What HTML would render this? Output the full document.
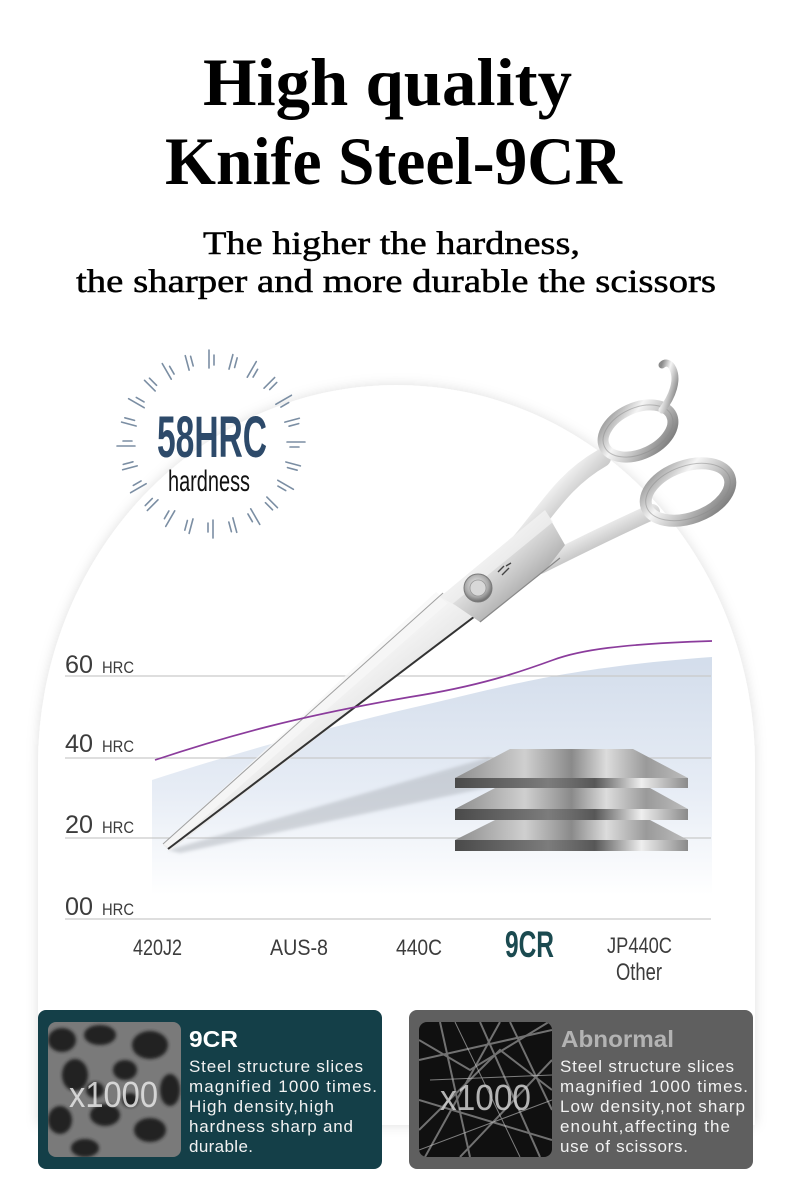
<!DOCTYPE html>
<html><head><meta charset="utf-8"><style>
html,body{margin:0;padding:0;background:#fff;}
svg{display:block;}
</style></head><body>
<svg width="790" height="1195" viewBox="0 0 790 1195" xmlns="http://www.w3.org/2000/svg">
<defs>
  <filter id="sh" x="-10%" y="-10%" width="120%" height="120%">
    <feDropShadow dx="0" dy="0" stdDeviation="6" flood-color="#000" flood-opacity="0.13"/>
  </filter>
  <filter id="blur3"><feGaussianBlur stdDeviation="1.5"/></filter>
  <filter id="blur1"><feGaussianBlur stdDeviation="1.6"/></filter>
  <linearGradient id="blue" x1="0" y1="655" x2="0" y2="895" gradientUnits="userSpaceOnUse">
    <stop offset="0" stop-color="#d3ddeb"/>
    <stop offset="0.55" stop-color="#e6ecf5"/>
    <stop offset="1" stop-color="#ffffff"/>
  </linearGradient>
  <linearGradient id="silv" x1="0" y1="0" x2="1" y2="1">
    <stop offset="0" stop-color="#8a8a8a"/>
    <stop offset="0.35" stop-color="#f5f5f5"/>
    <stop offset="0.6" stop-color="#c4c4c4"/>
    <stop offset="1" stop-color="#6e6e6e"/>
  </linearGradient>
  <linearGradient id="blade" x1="0" y1="0" x2="1" y2="1">
    <stop offset="0" stop-color="#b8b8b8"/>
    <stop offset="0.45" stop-color="#f4f4f4"/>
    <stop offset="0.7" stop-color="#d0d0d0"/>
    <stop offset="1" stop-color="#9a9a9a"/>
  </linearGradient>
  <radialGradient id="screw" cx="0.45" cy="0.4" r="0.6">
    <stop offset="0" stop-color="#f2f2f2"/>
    <stop offset="0.7" stop-color="#a8a8a8"/>
    <stop offset="1" stop-color="#6a6a6a"/>
  </radialGradient>
  <linearGradient id="ptop" x1="0" y1="0" x2="1" y2="0">
    <stop offset="0" stop-color="#8d8d8d"/>
    <stop offset="0.3" stop-color="#cfcfcf"/>
    <stop offset="0.5" stop-color="#8a8a8a"/>
    <stop offset="0.65" stop-color="#dcdcdc"/>
    <stop offset="0.82" stop-color="#9a9a9a"/>
    <stop offset="1" stop-color="#bdbdbd"/>
  </linearGradient>
  <linearGradient id="pbar" x1="0" y1="0" x2="1" y2="0">
    <stop offset="0" stop-color="#4a4a4a"/>
    <stop offset="0.4" stop-color="#7c7c7c"/>
    <stop offset="0.6" stop-color="#575757"/>
    <stop offset="0.8" stop-color="#eeeeee"/>
    <stop offset="1" stop-color="#8a8a8a"/>
  </linearGradient>
  <clipPath id="img1"><rect x="48" y="1022" width="133" height="135" rx="8"/></clipPath>
  <clipPath id="img2"><rect x="419" y="1022" width="133" height="135" rx="8"/></clipPath>
</defs>

<!-- Title -->
<g font-family="'Liberation Serif', serif" fill="#000">
  <text x="203" y="105" font-size="68" font-weight="bold" textLength="369" lengthAdjust="spacingAndGlyphs">High quality</text>
  <text x="165" y="184" font-size="68" font-weight="bold" textLength="457" lengthAdjust="spacingAndGlyphs">Knife Steel-9CR</text>
  <g stroke="#000" stroke-width="0.5">
  <text x="203" y="254" font-size="33" textLength="377" lengthAdjust="spacingAndGlyphs">The higher the hardness,</text>
  <text x="76" y="292" font-size="33" textLength="640" lengthAdjust="spacingAndGlyphs">the sharper and more durable the scissors</text>
  </g>
</g>

<!-- Arch background -->
<path d="M38,1125 L38,765 A358.5,380 0 0 1 755,765 L755,1125 Z" fill="#fff" filter="url(#sh)"/>

<!-- Burst -->
<g transform="translate(211,444)" stroke="#7b8ea3" stroke-width="1.6" stroke-linecap="round">
  <g transform="rotate(0)"><line x1="-2" y1="-76" x2="-2" y2="-94"/><line x1="3" y1="-79" x2="3" y2="-89"/></g>
  <g transform="rotate(15)"><line x1="-2" y1="-77" x2="-2" y2="-92"/><line x1="3" y1="-80" x2="3" y2="-90"/></g>
  <g transform="rotate(30)"><line x1="-2" y1="-76" x2="-2" y2="-94"/><line x1="3" y1="-79" x2="3" y2="-88"/></g>
  <g transform="rotate(45)"><line x1="-2" y1="-77" x2="-2" y2="-92"/><line x1="3" y1="-80" x2="3" y2="-90"/></g>
  <g transform="rotate(60)"><line x1="-2" y1="-76" x2="-2" y2="-94"/><line x1="3" y1="-79" x2="3" y2="-88"/></g>
  <g transform="rotate(75)"><line x1="-2" y1="-77" x2="-2" y2="-92"/><line x1="3" y1="-80" x2="3" y2="-90"/></g>
  <g transform="rotate(90)"><line x1="-2" y1="-76" x2="-2" y2="-94"/><line x1="3" y1="-79" x2="3" y2="-88"/></g>
  <g transform="rotate(105)"><line x1="-2" y1="-77" x2="-2" y2="-92"/><line x1="3" y1="-80" x2="3" y2="-90"/></g>
  <g transform="rotate(120)"><line x1="-2" y1="-76" x2="-2" y2="-94"/><line x1="3" y1="-79" x2="3" y2="-88"/></g>
  <g transform="rotate(135)"><line x1="-2" y1="-77" x2="-2" y2="-92"/><line x1="3" y1="-80" x2="3" y2="-90"/></g>
  <g transform="rotate(150)"><line x1="-2" y1="-76" x2="-2" y2="-94"/><line x1="3" y1="-79" x2="3" y2="-88"/></g>
  <g transform="rotate(165)"><line x1="-2" y1="-77" x2="-2" y2="-92"/><line x1="3" y1="-80" x2="3" y2="-90"/></g>
  <g transform="rotate(180)"><line x1="-2" y1="-76" x2="-2" y2="-94"/><line x1="3" y1="-79" x2="3" y2="-88"/></g>
  <g transform="rotate(195)"><line x1="-2" y1="-77" x2="-2" y2="-92"/><line x1="3" y1="-80" x2="3" y2="-90"/></g>
  <g transform="rotate(210)"><line x1="-2" y1="-76" x2="-2" y2="-94"/><line x1="3" y1="-79" x2="3" y2="-88"/></g>
  <g transform="rotate(225)"><line x1="-2" y1="-77" x2="-2" y2="-92"/><line x1="3" y1="-80" x2="3" y2="-90"/></g>
  <g transform="rotate(240)"><line x1="-2" y1="-76" x2="-2" y2="-94"/><line x1="3" y1="-79" x2="3" y2="-88"/></g>
  <g transform="rotate(255)"><line x1="-2" y1="-77" x2="-2" y2="-92"/><line x1="3" y1="-80" x2="3" y2="-90"/></g>
  <g transform="rotate(270)"><line x1="-2" y1="-76" x2="-2" y2="-94"/><line x1="3" y1="-79" x2="3" y2="-88"/></g>
  <g transform="rotate(285)"><line x1="-2" y1="-77" x2="-2" y2="-92"/><line x1="3" y1="-80" x2="3" y2="-90"/></g>
  <g transform="rotate(300)"><line x1="-2" y1="-76" x2="-2" y2="-94"/><line x1="3" y1="-79" x2="3" y2="-88"/></g>
  <g transform="rotate(315)"><line x1="-2" y1="-77" x2="-2" y2="-92"/><line x1="3" y1="-80" x2="3" y2="-90"/></g>
  <g transform="rotate(330)"><line x1="-2" y1="-76" x2="-2" y2="-94"/><line x1="3" y1="-79" x2="3" y2="-88"/></g>
  <g transform="rotate(345)"><line x1="-2" y1="-77" x2="-2" y2="-92"/><line x1="3" y1="-80" x2="3" y2="-90"/></g>
</g>
<text x="157" y="457" font-family="'Liberation Sans', sans-serif" font-weight="bold" font-size="58" fill="#2d4a6a" textLength="110" lengthAdjust="spacingAndGlyphs">58HRC</text>
<text x="168" y="491" font-family="'Liberation Sans', sans-serif" font-size="30" fill="#111" textLength="82" lengthAdjust="spacingAndGlyphs">hardness</text>

<!-- Chart area -->
<path d="M152,780 C250,748 350,722 420,706 C500,688 560,668 712,657 L712,900 L152,900 Z" fill="url(#blue)"/>
<g stroke="#c9c9c9" stroke-width="1.3">
  <line x1="65" y1="676" x2="711" y2="676"/>
  <line x1="65" y1="758" x2="711" y2="758"/>
  <line x1="65" y1="838" x2="711" y2="838"/>
  <line x1="65" y1="919" x2="711" y2="919"/>
</g>

<g font-family="'Liberation Sans', sans-serif" fill="#3c3c3c">
  <text x="65" y="673" font-size="25" textLength="28" lengthAdjust="spacingAndGlyphs">60</text>
  <text x="102" y="673" font-size="17" textLength="32" lengthAdjust="spacingAndGlyphs">HRC</text>
  <text x="65" y="752" font-size="25" textLength="28" lengthAdjust="spacingAndGlyphs">40</text>
  <text x="102" y="752" font-size="17" textLength="32" lengthAdjust="spacingAndGlyphs">HRC</text>
  <text x="65" y="833" font-size="25" textLength="28" lengthAdjust="spacingAndGlyphs">20</text>
  <text x="102" y="833" font-size="17" textLength="32" lengthAdjust="spacingAndGlyphs">HRC</text>
  <text x="65" y="915" font-size="25" textLength="28" lengthAdjust="spacingAndGlyphs">00</text>
  <text x="102" y="915" font-size="17" textLength="32" lengthAdjust="spacingAndGlyphs">HRC</text>

  <text x="133" y="955" font-size="22" textLength="49" lengthAdjust="spacingAndGlyphs">420J2</text>
  <text x="270" y="955" font-size="22" textLength="58" lengthAdjust="spacingAndGlyphs">AUS-8</text>
  <text x="396" y="955" font-size="22" textLength="46" lengthAdjust="spacingAndGlyphs">440C</text>
  <text x="505" y="957" font-size="37" font-weight="bold" fill="#1b4a50" textLength="49" lengthAdjust="spacingAndGlyphs">9CR</text>
  <text x="607" y="953" font-size="22" textLength="65" lengthAdjust="spacingAndGlyphs">JP440C</text>
  <text x="616" y="980" font-size="24" textLength="46" lengthAdjust="spacingAndGlyphs">Other</text>
</g>

<!-- Scissors shadow -->
<polygon points="168,850 490,757 490,787 180,853" fill="#aeb3ba" opacity="0.5" filter="url(#blur3)"/>

<!-- Scissors -->
<g>
  <path d="M540,566 C580,546 612,530 652,512" fill="none" stroke="url(#silv)" stroke-width="16" stroke-linecap="round"/>
  <ellipse cx="688" cy="492" rx="44" ry="26" transform="rotate(-20 688 492)" fill="none" stroke="url(#silv)" stroke-width="12"/>
  <ellipse cx="688" cy="492" rx="44" ry="26" transform="rotate(-20 688 492)" fill="none" stroke="#8a8a8a" stroke-width="1" opacity="0.5"/>
  <path d="M515,548 C545,515 560,482 602,458" fill="none" stroke="url(#silv)" stroke-width="18" stroke-linecap="round"/>
  <ellipse cx="638" cy="431" rx="37" ry="23" transform="rotate(-25 638 431)" fill="none" stroke="url(#silv)" stroke-width="11"/>
  <ellipse cx="638" cy="431" rx="37" ry="23" transform="rotate(-25 638 431)" fill="none" stroke="#8a8a8a" stroke-width="1" opacity="0.5"/>
  <path d="M662,410 C673,396 678,380 673,369 C670,362 665,362 662,365" fill="none" stroke="url(#silv)" stroke-width="7" stroke-linecap="round"/>
  <polygon points="163,845 443,593 487,607 170,851" fill="url(#blade)"/>
  <polygon points="163,844 436,592 449,602 170,848" fill="#f7f7f7" opacity="0.75"/>
  <line x1="163" y1="844" x2="443" y2="593" stroke="#a0a0a0" stroke-width="1"/>
  <line x1="168" y1="849" x2="487" y2="607" stroke="#333" stroke-width="2"/>
  <polygon points="440,597 545,510 565,545 548,567 480,622 455,605" fill="url(#silv)"/>
  <polygon points="440,597 545,510 553,522 450,606" fill="#f2f2f2" opacity="0.7"/>
  <line x1="480" y1="622" x2="560" y2="558" stroke="#888" stroke-width="1.2"/>
  <circle cx="478" cy="588" r="14" fill="url(#screw)" stroke="#7a7a7a" stroke-width="1"/>
  <circle cx="478" cy="588" r="8" fill="#d8d8d8" stroke="#999" stroke-width="0.8"/>
  <path d="M498,572 l6,-6 M502,575 l7,-7 M506,566 l5,-3" stroke="#444" stroke-width="1.4"/>
</g>

<path d="M155,760 C230,735 300,716 410,697 C480,686 520,672 553,660 C580,650 620,644 712,641" fill="none" stroke="#8b3c9c" stroke-width="1.7"/>

<!-- Steel plates -->
<g>
  <polygon points="495,820 650,820 688,840 455,840" fill="url(#ptop)"/>
  <rect x="455" y="840" width="233" height="11" fill="url(#pbar)"/>
  <polygon points="495,788 650,788 688,809 455,809" fill="url(#ptop)"/>
  <rect x="455" y="809" width="233" height="11" fill="url(#pbar)"/>
  <polygon points="510,749 633,749 688,778 455,778" fill="url(#ptop)"/>
  <rect x="455" y="778" width="233" height="10" fill="url(#pbar)"/>
</g>

<!-- Card 1 -->
<rect x="38" y="1010" width="344" height="159" rx="8" fill="#143f48"/>
<g clip-path="url(#img1)">
  <rect x="48" y="1022" width="133" height="135" fill="#7a7a7a"/>
  <g fill="#232323" filter="url(#blur1)">
    <ellipse cx="62" cy="1040" rx="14" ry="12"/>
    <ellipse cx="100" cy="1035" rx="16" ry="10"/>
    <ellipse cx="150" cy="1045" rx="18" ry="14"/>
    <ellipse cx="75" cy="1075" rx="13" ry="16"/>
    <ellipse cx="125" cy="1070" rx="12" ry="10"/>
    <ellipse cx="170" cy="1090" rx="10" ry="16"/>
    <ellipse cx="60" cy="1120" rx="12" ry="14"/>
    <ellipse cx="105" cy="1115" rx="15" ry="11"/>
    <ellipse cx="150" cy="1130" rx="16" ry="12"/>
    <ellipse cx="85" cy="1148" rx="14" ry="9"/>
    <ellipse cx="130" cy="1100" rx="8" ry="7"/>
    <ellipse cx="95" cy="1090" rx="9" ry="8"/>
  </g>
  <text x="69" y="1107" font-family="'Liberation Sans', sans-serif" font-size="36" fill="#e6e6e6" opacity="0.85" textLength="89" lengthAdjust="spacingAndGlyphs">x1000</text>
</g>
<g font-family="'Liberation Sans', sans-serif" fill="#f2f2f2">
  <text x="189" y="1047" font-size="23" font-weight="bold" fill="#ffffff" textLength="49" lengthAdjust="spacingAndGlyphs">9CR</text>
  <g font-size="17">
    <text x="189" y="1072" textLength="174" lengthAdjust="spacing">Steel structure slices</text>
    <text x="189" y="1092" textLength="188" lengthAdjust="spacing">magnified 1000 times.</text>
    <text x="189" y="1112" textLength="145" lengthAdjust="spacing">High density,high</text>
    <text x="189" y="1132" textLength="164" lengthAdjust="spacing">hardness sharp and</text>
    <text x="189" y="1152" textLength="64" lengthAdjust="spacing">durable.</text>
  </g>
</g>

<!-- Card 2 -->
<rect x="409" y="1010" width="344" height="159" rx="8" fill="#5f5f5f"/>
<g clip-path="url(#img2)">
  <rect x="419" y="1022" width="133" height="135" fill="#101010"/>
  <g stroke="#8a8a8a" stroke-width="2" fill="none" opacity="0.8">
    <path d="M419,1060 L552,1030"/>
    <path d="M425,1157 L500,1022"/>
    <path d="M460,1157 L552,1060"/>
    <path d="M419,1100 L552,1140"/>
    <path d="M480,1022 L540,1157"/>
    <path d="M419,1130 L500,1050 L552,1090"/>
    <path d="M440,1022 L470,1157"/>
    <path d="M510,1022 L552,1110"/>
    <path d="M419,1040 L470,1070 L552,1020"/>
  </g>
  <g stroke="#c8c8c8" stroke-width="1" fill="none" opacity="0.6">
    <path d="M430,1080 L552,1075"/>
    <path d="M419,1150 L552,1100"/>
    <path d="M455,1022 L520,1157"/>
  </g>
  <text x="440" y="1110" font-family="'Liberation Sans', sans-serif" font-size="36" fill="#d0d0d0" opacity="0.85" textLength="91" lengthAdjust="spacingAndGlyphs">x1000</text>
</g>
<g font-family="'Liberation Sans', sans-serif" fill="#f2f2f2">
  <text x="561" y="1047" font-size="23" font-weight="bold" fill="#b3b3b3" textLength="113" lengthAdjust="spacingAndGlyphs">Abnormal</text>
  <g font-size="17">
    <text x="560" y="1072" textLength="174" lengthAdjust="spacing">Steel structure slices</text>
    <text x="560" y="1092" textLength="188" lengthAdjust="spacing">magnified 1000 times.</text>
    <text x="560" y="1112" textLength="185" lengthAdjust="spacing">Low density,not sharp</text>
    <text x="560" y="1132" textLength="170" lengthAdjust="spacing">enouht,affecting the</text>
    <text x="560" y="1152" textLength="128" lengthAdjust="spacing">use of scissors.</text>
  </g>
</g>
</svg>
</body></html>
